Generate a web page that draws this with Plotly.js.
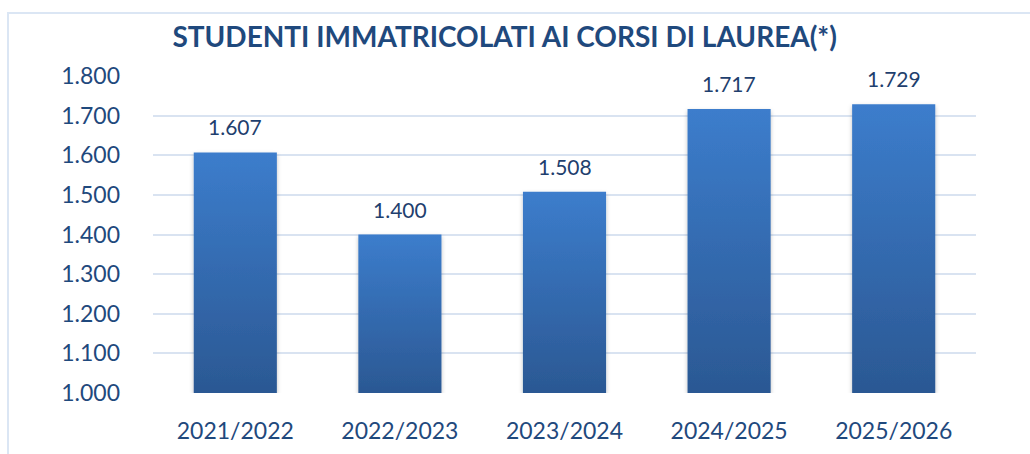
<!DOCTYPE html>
<html><head><meta charset="utf-8">
<script src="https://cdn.plot.ly/plotly-3.0.1.min.js"></script>
<style>
html,body{margin:0;padding:0;background:#fff;}
#frame{position:absolute;left:7px;top:12px;width:1100px;height:500px;border:2px solid #dbe6f4;box-sizing:border-box;}
#chart{position:absolute;left:0;top:0;width:1030px;height:454px;}
</style></head>
<body>
<div id="frame"></div>
<div id="chart"></div>
<script>
const categories = ['2021/2022','2022/2023','2023/2024','2024/2025','2025/2026'];
const values = [1607, 1400, 1508, 1717, 1729];
const yTicks = [1000,1100,1200,1300,1400,1500,1600,1700,1800];

const textColor = '#1f497d';
const labelColor = '#1f3f6e';
const fontFam = 'Lato, sans-serif';

const trace = {
  type:'bar', x:categories, y:values,
  marker:{color:'#3470bb', line:{width:0}},
  width:0.505,
  cliponaxis:false,
  hoverinfo:'none'
};
const annotations = categories.map((c,i)=>({
  x:c, y:values[i], xref:'x', yref:'y', yanchor:'bottom', yshift:11,
  text: values[i].toLocaleString('it-IT'), showarrow:false,
  font:{family:fontFam, size:21, color:labelColor}
}));
const layout = {
  width:1030, height:454,
  paper_bgcolor:'rgba(0,0,0,0)', plot_bgcolor:'rgba(0,0,0,0)',
  separators:',.',
  margin:{l:153, r:54, t:76, b:61},
  title:{text:'STUDENTI IMMATRICOLATI AI CORSI DI LAUREA(*)', x:0.49, xanchor:'center', y:0.918, yanchor:'middle',
    font:{family:fontFam, size:28, color:textColor, weight:'bold'}},
  xaxis:{type:'category', showgrid:false, zeroline:false, showline:false, ticks:'',
    tickfont:{family:fontFam, size:23, color:textColor}, ticklabelstandoff:22},
  yaxis:{range:[1000,1800], tickvals:yTicks, tickformat:',d', showgrid:true, gridcolor:'#d9e3f1', gridwidth:2,
    zeroline:false, showline:false, ticks:'', ticklabelstandoff:32,
    tickfont:{family:fontFam, size:23, color:textColor}},
  annotations: annotations,
  showlegend:false, bargap:0.495
};
Plotly.newPlot('chart',[trace],layout,{staticPlot:true, displayModeBar:false}).then(gd=>{
  const svg = gd.querySelector('svg.main-svg');
  const ns='http://www.w3.org/2000/svg';
  let defs = svg.querySelector('defs');
  const lg = document.createElementNS(ns,'linearGradient');
  lg.setAttribute('id','barGrad'); lg.setAttribute('x1','0'); lg.setAttribute('y1','0'); lg.setAttribute('x2','0'); lg.setAttribute('y2','1');
  [['0','#3c7dcc'],['1','#2b5893']].forEach(([o,c])=>{const s=document.createElementNS(ns,'stop');s.setAttribute('offset',o);s.setAttribute('stop-color',c);lg.appendChild(s);});
  defs.appendChild(lg);
  const f = document.createElementNS(ns,'filter');
  f.setAttribute('id','barShadow'); f.setAttribute('x','-20%'); f.setAttribute('y','-10%'); f.setAttribute('width','140%'); f.setAttribute('height','120%');
  f.innerHTML='<feDropShadow dx="0" dy="2" stdDeviation="2" flood-color="#000" flood-opacity="0.25"/>';
  defs.appendChild(f);
  const h = gd._fullLayout._size.h;
  gd.querySelectorAll('.barlayer .point path').forEach(p=>{
    const d = p.getAttribute('d');
    const nd = d.replace(/([MLVH,])\s*(-?[\d.]+)/g,(m,cmd,num)=>m).replace(/M([\d.\-]+),([\d.\-]+)V([\d.\-]+)H([\d.\-]+)V([\d.\-]+)Z/, (m,x0,y0,y1,x1,y2)=>{
      const b = Math.min(parseFloat(y0), h);
      return 'M'+x0+','+b+'V'+y1+'H'+x1+'V'+b+'Z';
    });
    p.setAttribute('d', nd);
    p.style.fill='url(#barGrad)'; p.setAttribute('filter','url(#barShadow)');
  });
});
</script>
</body></html>
